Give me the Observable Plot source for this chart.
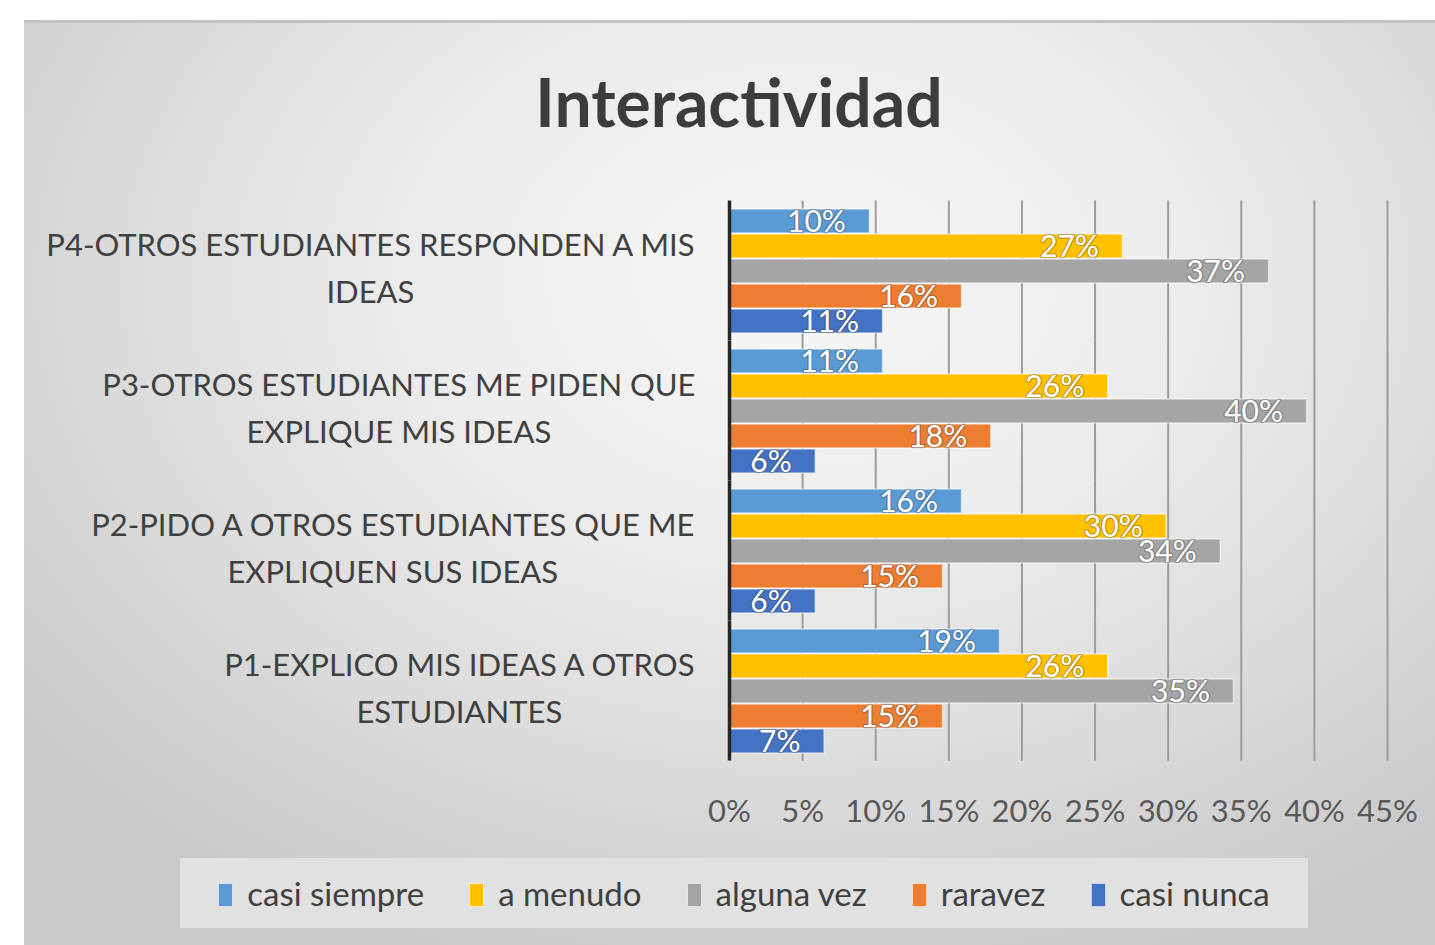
<!DOCTYPE html>
<html>
<head>
<meta charset="utf-8">
<script src="https://cdn.jsdelivr.net/npm/d3@7"></script>
<script src="https://cdn.jsdelivr.net/npm/@observablehq/plot@0.6"></script>
<style>
  html, body { margin: 0; padding: 0; background: #ffffff; width: 1435px; height: 945px; overflow: hidden; font-family: Lato, "Open Sans", sans-serif; }
  #card { position: absolute; left: 24px; top: 20px; width: 1411px; height: 925px; box-sizing: border-box;
    border-top: 3px solid #c2c2c2;
    background: radial-gradient(ellipse 72% 80% at 55% 28%, #f7f7f7 0%, #ececec 38%, #dadada 70%, #c8c8c8 100%); }
  #title { position: absolute; left: 739px; top: 69px; transform: translateX(-50%); white-space: nowrap;
    font-family: Lato, sans-serif; font-weight: 700; font-size: 66px; line-height: 66px; color: #3c3c3c; }
  #chart { position: absolute; left: 0; top: 0; }
  #legend { position: absolute; left: 180px; top: 858px; width: 1128px; height: 70px; background: #e1e1e1;
    display: flex; align-items: center; justify-content: center; gap: 45px;
    font-family: Lato, sans-serif; font-size: 33px; color: #404040; }
  .item { display: flex; align-items: center; gap: 14px; }
  .sw { width: 13px; height: 22px; border: 1.5px solid rgba(255,255,255,0.7); margin-top: 4px; }
</style>
</head>
<body>
<div id="card"></div>
<div id="title">Interactividad</div>
<div id="chart"></div>
<div id="legend"></div>
<script>
// ---- data ----
const categories = [
  "P4-OTROS ESTUDIANTES RESPONDEN A MIS\nIDEAS",
  "P3-OTROS ESTUDIANTES ME PIDEN QUE\nEXPLIQUE MIS IDEAS",
  "P2-PIDO A OTROS ESTUDIANTES QUE ME\nEXPLIQUEN SUS IDEAS",
  "P1-EXPLICO MIS IDEAS A OTROS\nESTUDIANTES"
];
const series = ["casi siempre", "a menudo", "alguna vez", "raravez", "casi nunca"];
const colors = ["#5B9BD5", "#FFC000", "#A5A5A5", "#ED7D31", "#4472C4"];
// values in %, ordered as categories (P4, P3, P2, P1)
const casiSiempre = [9.6, 10.5, 15.9, 18.5];
const aMenudo     = [26.9, 25.9, 29.9, 25.9];
const algunaVez   = [36.9, 39.5, 33.6, 34.5];
const raravez     = [15.9, 17.9, 14.6, 14.6];
const casiNunca   = [10.5, 5.9, 5.9, 6.5];
const xTicks = [0, 5, 10, 15, 20, 25, 30, 35, 40, 45];
const tickLabels = ["0%", "5%", "10%", "15%", "20%", "25%", "30%", "35%", "40%", "45%"];

const seriesValues = [casiSiempre, aMenudo, algunaVez, raravez, casiNunca];
const table = categories.flatMap((cat, ci) =>
  series.map((s, si) => ({cat, series: s, value: seriesValues[si][ci]}))
);

// measure label block widths so each wrapped label is centered in a right-aligned block
const catFont = 31;
const ctx = document.createElement("canvas").getContext("2d");
ctx.font = `${catFont}px Lato`;
const blockWidth = c => d3.max(c.split("\n"), line => ctx.measureText(line).width);

const chart = Plot.plot({
  width: 1435,
  height: 860,
  marginLeft: 729,
  marginRight: 48,
  marginTop: 200,
  marginBottom: 100,
  style: {background: "transparent", fontFamily: "Lato, sans-serif", overflow: "visible"},
  x: {domain: [0, 45], axis: null},
  fy: {domain: categories, paddingInner: 15 / 140, paddingOuter: 7.5 / 140, axis: null},
  y: {domain: series, paddingInner: 0.06, paddingOuter: 0, axis: null},
  color: {domain: series, range: colors},
  marks: [
    Plot.ruleX(xTicks.filter(t => t > 0), {stroke: "#9c9c9c", strokeWidth: 2, insetTop: -7.6, insetBottom: -7.6}),
    Plot.barX(table, {fy: "cat", y: "series", x: "value", fill: "series",
      stroke: "#ffffff", strokeOpacity: 0.55, strokeWidth: 1.5}),
    Plot.ruleX([0], {stroke: "#262626", strokeWidth: 3.5, insetTop: -7.6, insetBottom: -7.6}),
    Plot.text(table, {fy: "cat", y: "series", x: "value", text: d => Math.round(d.value) + "%",
      textAnchor: "end", dx: -24, dy: 1, fill: "#ffffff", fontSize: 30,
      stroke: "rgba(70,70,70,0.35)", strokeWidth: 2.5, paintOrder: "stroke"}),
    ...categories.map(c => Plot.text([c], {fy: d => d, frameAnchor: "left", text: d => d,
      dx: -(34 + blockWidth(c) / 2), dy: -7, textAnchor: "middle", lineAnchor: "middle",
      lineHeight: 1.52, fontSize: catFont, fill: "#404040"})),
    Plot.axisX(xTicks, {tickSize: 0, tickPadding: 46, fontSize: 31, fill: "#595959", label: null,
      tickFormat: d => tickLabels[xTicks.indexOf(d)]})
  ]
});
document.getElementById("chart").appendChild(chart);

// legend
const legend = document.getElementById("legend");
series.forEach((s, i) => {
  const item = document.createElement("div");
  item.className = "item";
  const sw = document.createElement("span");
  sw.className = "sw";
  sw.style.background = colors[i];
  const label = document.createElement("span");
  label.textContent = s;
  item.appendChild(sw);
  item.appendChild(label);
  legend.appendChild(item);
});
</script>
</body>
</html>
